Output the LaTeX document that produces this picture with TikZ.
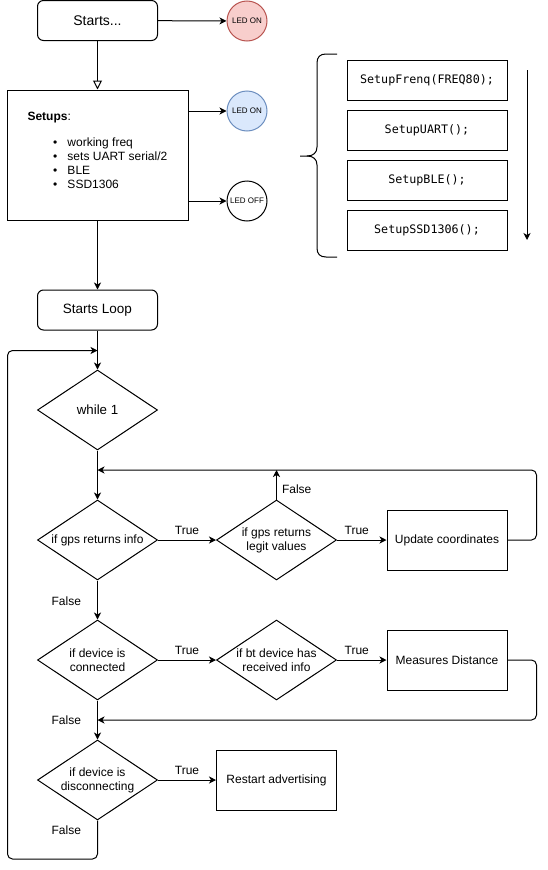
\documentclass[tikz,border=0pt]{standalone}
\usepackage{fontspec}
\setmainfont{Liberation Sans}
\newfontfamily\codefont{DejaVu Sans Mono}
\usetikzlibrary{shapes.geometric,arrows.meta}
\definecolor{ledredfill}{HTML}{F8CECC}
\definecolor{ledredline}{HTML}{B85450}
\definecolor{ledbluefill}{HTML}{DAE8FC}
\definecolor{ledblueline}{HTML}{6C8EBF}
\begin{document}
\begin{tikzpicture}[x=1pt,y=-1pt,line width=1pt,
  txt/.style={font=\fontsize{12}{14}\selectfont, inner sep=0pt},
  rbox/.style={draw, rounded corners=6pt, minimum width=120pt, minimum height=40pt, inner sep=0pt},
  box/.style={draw, minimum width=120pt, minimum height=60pt, inner sep=0pt, font=\fontsize{12}{14}\selectfont},
  dia/.style={draw, diamond, minimum width=120pt, minimum height=80pt, inner sep=0pt},
  dtext/.style={font=\fontsize{12}{14}\selectfont, align=center, inner sep=0pt},
  led/.style={circle, draw, minimum size=40pt, inner sep=0pt, font=\fontsize{8}{9}\selectfont},
  codebox/.style={draw, minimum width=160pt, minimum height=40pt, inner sep=0pt, font=\codefont\fontsize{11.7}{13}\selectfont},
  lbl/.style={font=\fontsize{12}{14}\selectfont, inner sep=0pt},
  arr/.style={-{Stealth[length=7pt,width=7pt,inset=2pt]}},
  opentri/.style={-{Triangle[open,length=9pt,width=9pt]}}]
\useasboundingbox (0,0) rectangle (547,870);

% top part
\node[rbox, font=\fontsize{14}{16}\selectfont] (start) at (97.5,20.5) {Starts...};
\node[led, fill=ledredfill, draw=ledredline] (led1) at (247,21) {LED ON};
\node[draw, minimum width=181pt, minimum height=130pt, inner sep=0pt] (setup) at (97.5,155) {};
\node[led, fill=ledbluefill, draw=ledblueline] (led2) at (247,111) {LED ON};
\node[led, fill=white] (led3) at (247,201) {LED OFF};

\node[txt, anchor=base west] (s0) at (27,120.5) {\textbf{Setups}:};
\node[txt, anchor=base west] (s1) at (52.5,146) {\makebox[14.5pt][l]{\textbullet}working freq};
\node[txt, anchor=base west] (s2) at (52.5,160) {\makebox[14.5pt][l]{\textbullet}sets UART serial/2};
\node[txt, anchor=base west] (s3) at (52.5,174) {\makebox[14.5pt][l]{\textbullet}BLE};
\node[txt, anchor=base west] (s4) at (52.5,188) {\makebox[14.5pt][l]{\textbullet}SSD1306};

\draw[arr] (start) -- (led1);
\draw[opentri] (start) -- (setup);
\draw[arr] (setup.east |- led2) -- (led2);
\draw[arr] (setup.east |- led3) -- (led3);

% code boxes
\node[codebox] (c1) at (427,80) {SetupFrenq(FREQ80);};
\node[codebox] (c2) at (427,130) {SetupUART();};
\node[codebox] (c3) at (427,180) {SetupBLE();};
\node[codebox] (c4) at (427,230) {SetupSSD1306();};
\coordinate (ca) at (527,70);
\coordinate (cb) at (527,240);
\draw[arr] (ca) -- (cb);
\draw (337,54) -- (326,54) .. controls (320,54) and (317,57) .. (317,63) -- (317,147)
  .. controls (317,153) and (313,156) .. (307,156) -- (300,156);
\draw (307,156) .. controls (313,156) and (317,159) .. (317,165) -- (317,248)
  .. controls (317,254) and (320,257) .. (326,257) -- (337,257);

% loop
\node[rbox, font=\fontsize{13.5}{15}\selectfont] (loop) at (97.5,310) {Starts Loop};
\draw[arr] (setup) -- (loop);
\coordinate (j1) at (97.5,350.5);
\node[dia, label={[dtext, font=\fontsize{13.3}{15}\selectfont]center:while 1}] (w1) at (97.5,410) {};
\draw[arr] (loop) -- (w1);

\coordinate (j2) at (97.5,470);
\node[dia, label={[dtext]center:if gps returns info}] (gps1) at (97.5,540) {};
\node[dia, label={[dtext]center:if gps returns\\legit values}] (gps2) at (276.5,540) {};
\node[box] (upd) at (447,540) {Update coordinates};
\draw[arr] (w1) -- (gps1);
\draw[arr] (gps1) -- node[lbl, above=4.5pt] {True} (gps2);
\draw[arr] (gps2) -- node[lbl, above=4.5pt, pos=0.4] {True} (upd);
\draw[arr] (gps2.north) -- node[lbl, right=5pt, pos=0.35] {False} (gps2.north |- j2);
\coordinate (r1) at (536.5,470);
\draw[arr, rounded corners=5pt] (upd.east) -| (r1) -- (j2);

\node[dia, label={[dtext]center:if device is\\connected}] (dev1) at (97.5,660) {};
\node[dia, label={[dtext]center:if bt device has\\received info}] (bt) at (276.5,660) {};
\node[box] (meas) at (447,660) {Measures Distance};
\draw[arr] (gps1) -- node[lbl, left=16pt, pos=0.52] {False} (dev1);
\draw[arr] (dev1) -- node[lbl, above=4.5pt] {True} (bt);
\draw[arr] (bt) -- node[lbl, above=4.5pt, pos=0.4] {True} (meas);
\coordinate (j3) at (97.5,720);
\coordinate (r2) at (536.5,720);
\draw[arr, rounded corners=5pt] (meas.east) -| (r2) -- (j3);

\node[dia, label={[dtext]center:if device is\\disconnecting}] (dis) at (97.5,780) {};
\node[box] (rst) at (276.5,780) {Restart advertising};
\draw[arr] (dev1) -- node[lbl, left=16pt, pos=0.5] {False} (dis);
\draw[arr] (dis) -- node[lbl, above=4.5pt] {True} (rst);
\coordinate (lb) at (7.5,859);
\node[lbl, anchor=east] (f4) at (81.5,830) {False};
\draw[arr, rounded corners=5pt] (dis.south) |- (lb) |- (j1);
\end{tikzpicture}
\end{document}
